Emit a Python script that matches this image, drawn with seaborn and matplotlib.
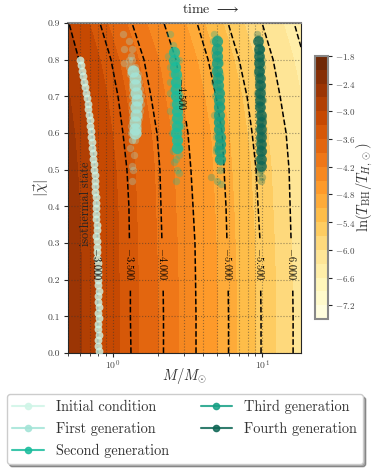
import numpy as np
import seaborn as sns
import matplotlib.pyplot as plt
from matplotlib.lines import Line2D
from matplotlib.ticker import FixedLocator, NullFormatter, FixedFormatter

# contour table: log10(M) where each level crosses each spin row
spin_rows = [0.0, 0.1, 0.2, 0.3, 0.4, 0.5, 0.6, 0.7, 0.8, 0.9]
field_levels = [-2.0, -2.5, -3.0, -3.5, -4.0, -4.5, -5.0, -5.5, -6.0, -6.5, -7.0]
log_mass_table = [
    [-.520, -.300, -.101, .121, .339, .557, .775, .993, 1.208, 1.423, 1.641],
    [-.520, -.300, -.101, .117, .339, .557, .775, .993, 1.208, 1.423, 1.641],
    [-.523, -.300, -.104, .117, .336, .554, .772, .990, 1.205, 1.419, 1.637],
    [-.527, -.309, -.104, .111, .329, .550, .765, .987, 1.195, 1.416, 1.634],
    [-.540, -.322, -.107, .107, .322, .537, .758, .973, 1.188, 1.403, 1.621],
    [-.554, -.336, -.121, .094, .315, .523, .745, .960, 1.181, 1.389, 1.607],
    [-.574, -.356, -.141, .067, .295, .503, .732, .933, 1.161, 1.369, 1.587],
    [-.607, -.389, -.174, .034, .255, .463, .691, .899, 1.121, 1.336, 1.554],
    [-.661, -.443, -.228, -.013, .208, .423, .638, .846, 1.074, 1.285, 1.503],
    [-.728, -.510, -.295, -.087, .128, .342, .564, .772, 1.000, 1.215, 1.433],
]
line_levels = [-6.5, -6.0, -5.5, -5.0, -4.5, -4.0, -3.5, -3.0, -2.5]
band_edges = [-7.5, -7.2, -6.9, -6.6, -6.3, -6.0, -5.7, -5.4, -5.1, -4.8, -4.5,
              -4.2, -3.9, -3.6, -3.3, -3.0, -2.7, -2.4, -2.1, -1.8]
cbar_ticks = [-7.2, -6.6, -6.0, -5.4, -4.8, -4.2, -3.6, -3.0, -2.4, -1.8]

# generations, spin and log10(M)
init_chi = [.80, .785, .77, .755, .74, .725, .71, .695, .68, .665, .65, .635, .62, .605, .59, .575, .56, .545,
            .53, .515, .50, .485, .47, .455, .44, .425, .41, .395, .38, .365, .35, .335, .32, .305, .29, .275,
            .26, .245, .23, .215, .20, .185, .17, .155, .14, .125, .11, .095, .08, .065, .05, .035, .02, .005]
init_mass = [-.221, -.215, -.208, -.201, -.195, -.185, -.178, -.171, -.168, -.164, -.158, -.154, -.151, -.148,
             -.144, -.141, -.138, -.134, -.131, -.128, -.124, -.121, -.121, -.117, -.117, -.114, -.114, -.114,
             -.111, -.111, -.107, -.107, -.111, -.107, -.104, -.104, -.104, -.101, -.101, -.097, -.097, -.097,
             -.094, -.097, -.097, -.094, -.097, -.094, -.097, -.097, -.094, -.097, -.097, -.094]

first_chi = [.87, .83, .79, .85, .83, .81, .47, .51, .54, .50, .56, .58,
             .80, .80, .78, .78, .78, .76, .76, .76, .74, .74, .74, .72, .72, .72, .70, .70, .70,
             .68, .68, .68, .66, .66, .66, .64, .64, .64, .62, .62, .62, .60, .60, .60, .58, .58]
first_mass = [.070, .075, .075, .105, .130, .120, .125, .130, .140, .135, .115, .130,
              .105, .125, .110, .130, .150, .115, .140, .165, .125, .150, .175, .130, .155, .180, .130, .155, .185,
              .130, .160, .185, .125, .155, .180, .125, .150, .175, .120, .150, .170, .120, .145, .165, .125, .150]
first_core_chi = [.77, .75, .73, .71, .69, .67, .65, .63, .61, .60]
first_core_mass = [.135, .145, .150, .155, .160, .155, .155, .150, .145, .145]

second_chi = [.87, .84, .82, .81, .79, .78, .78, .76, .76, .75, .74, .73, .72, .71, .71, .70, .70, .69, .68, .67,
              .66, .66, .65, .64, .63, .63, .62, .61, .60, .60, .59, .58, .57, .56, .55, .54, .53, .52, .50, .49,
              .47, .80, .74, .68, .62, .56]
second_mass = [.385, .405, .400, .370, .400, .430, .380, .395, .425, .445, .410, .430, .405, .440, .385, .415,
               .450, .430, .400, .445, .420, .385, .450, .425, .405, .445, .430, .410, .440, .395, .425, .445,
               .420, .435, .400, .440, .425, .410, .430, .440, .420, .445, .385, .460, .455, .450]
second_core_chi = [.82, .80, .78, .76, .74, .72, .70, .68, .66, .64, .62, .60, .58, .56]
second_core_mass = [.410, .410, .415, .420, .420, .425, .425, .430, .430, .430, .430, .425, .430, .430]

third_chi = [.87, .86, .84, .83, .82, .81, .80, .79, .78, .77, .76, .75, .74, .73, .72, .71, .70, .69, .68, .67,
             .66, .65, .64, .63, .62, .61, .60, .59, .58, .57, .56, .55, .54, .53, .52, .50, .48, .47, .46, .85,
             .80, .76, .72, .68, .64, .60, .56]
third_mass = [.680, .700, .690, .705, .680, .700, .690, .715, .680, .700, .690, .710, .680, .700, .695, .720,
              .685, .705, .695, .725, .700, .680, .715, .695, .725, .705, .720, .690, .710, .730, .700, .690,
              .720, .705, .725, .715, .655, .700, .725, .670, .710, .715, .720, .720, .700, .700, .690]
third_core_chi = [.85, .83, .81, .79, .77, .75, .73, .71, .69, .67, .65, .63, .61, .59, .57, .55, .53]
third_core_mass = [.695, .695, .700, .700, .700, .705, .705, .710, .710, .710, .710, .710, .710, .715, .715, .715, .720]

fourth_chi = [.87, .86, .84, .83, .82, .81, .80, .79, .78, .77, .76, .75, .74, .73, .72, .71, .70, .69, .68, .67,
              .66, .65, .64, .63, .62, .61, .60, .59, .58, .57, .56, .55, .54, .53, .52, .50, .49, .48, .47, .83,
              .80, .76, .72, .68, .64, .60, .56, .78, .70, .62]
fourth_mass = [.965, .975, .980, .990, .965, .985, .970, .995, .975, .990, .965, .985, .970, 1.000, .980, .965,
               .990, 1.005, .975, .995, .985, .970, 1.005, .985, .995, .975, 1.005, .990, .980, 1.000, .985,
               1.005, .990, .975, 1.000, .995, .980, 1.000, .990, .995, 1.000, .985, 1.000, .980, .990, .985,
               .985, 1.000, .975, .985]
fourth_core_chi = [.85, .83, .81, .79, .77, .75, .73, .71, .69, .67, .65, .63, .61, .59, .57, .55, .53, .51]
fourth_core_mass = [.975, .980, .980, .980, .980, .985, .985, .985, .985, .985, .990, .990, .990, .990, .990, .990, .990, .990]

gen_names = ['Initial condition', 'First generation', 'Second generation', 'Third generation', 'Fourth generation']
gen_colors = ['#cff5e7', '#a3e4d7', '#1abc9c', '#16a085', '#0e6655']

sns.set_style('ticks')
plt.rcParams['font.family'] = ['cmr10', 'DejaVu Serif']
plt.rcParams['mathtext.fontset'] = 'cm'
plt.rcParams['axes.formatter.use_mathtext'] = True
plt.rcParams['axes.unicode_minus'] = False

fig = plt.figure(figsize=(3.78, 4.7), dpi=100)
ax = fig.add_axes([0.18, 0.249, 0.615, 0.702])
cax = fig.add_axes([0.833, 0.321, 0.0344, 0.56])

ax.set_xscale('log')
ax.set_xlim(0.5, 18.1)
ax.set_ylim(0, 0.9)

mass_grid = 10 ** np.array(log_mass_table)
spin_grid = np.tile(np.array(spin_rows)[:, None], (1, len(field_levels)))
level_grid = np.tile(np.array(field_levels), (len(spin_rows), 1))

bands = ax.contourf(mass_grid, spin_grid, level_grid, levels=band_edges, cmap='YlOrBr', zorder=1)
lines = ax.contour(mass_grid, spin_grid, level_grid, levels=line_levels, colors='k',
                   linestyles='--', linewidths=1.1, zorder=2)
labels = ax.clabel(lines, fmt='$%.3f$', fontsize=7.5, inline=True, inline_spacing=9,
                   manual=[(15.9, .243), (9.8, .243), (5.9, .243), (3.0, .709), (2.17, .243), (1.31, .243), (0.79, .243)])
for t in labels:
    t.set_rotation(-90)

# thin outer points first, then the dense middle of each cloud
sns.scatterplot(x=10 ** np.array(init_mass), y=init_chi, ax=ax, color=gen_colors[0], s=32, alpha=0.8,
                linewidth=0, zorder=3, legend=False)
gen_chi = [first_chi, second_chi, third_chi, fourth_chi]
gen_mass = [first_mass, second_mass, third_mass, fourth_mass]
core_chi = [first_core_chi, second_core_chi, third_core_chi, fourth_core_chi]
core_mass = [first_core_mass, second_core_mass, third_core_mass, fourth_core_mass]
core_size = [75, 65, 65, 60]
for i in range(4):
    sns.scatterplot(x=10 ** np.array(gen_mass[i]), y=gen_chi[i], ax=ax, color=gen_colors[i + 1], s=28, alpha=0.3,
                    linewidth=0, zorder=3, legend=False)
    sns.scatterplot(x=10 ** np.array(core_mass[i]), y=core_chi[i], ax=ax, color=gen_colors[i + 1], s=core_size[i],
                    alpha=0.8, linewidth=0, zorder=3, legend=False)

ax.set_xlim(0.5, 18.1)
ax.set_ylim(0, 0.9)
ax.set_yticks(np.arange(0, 0.91, 0.1))
ax.set_yticklabels(['0.0', '0.1', '0.2', '0.3', '0.4', '0.5', '0.6', '0.7', '0.8', '0.9'])
ax.xaxis.set_major_locator(FixedLocator([1, 10]))
ax.xaxis.set_major_formatter(FixedFormatter(['$10^0$', '$10^1$']))
ax.xaxis.set_minor_locator(FixedLocator([.5, .6, .7, .8, .9, 2, 3, 4, 5, 6, 7, 8, 9]))
ax.xaxis.set_minor_formatter(NullFormatter())
ax.grid(True, which='both', linestyle=':', color='#333333', alpha=0.5, linewidth=0.8, zorder=2)
ax.set_axisbelow(False)
ax.tick_params(axis='y', which='major', labelsize=7, length=3, labelcolor='#444444', pad=3)
ax.tick_params(axis='x', which='major', labelsize=7, length=3, labelcolor='#444444', pad=1)
ax.tick_params(axis='x', which='minor', length=2)
ax.spines['top'].set_color('#888888')
ax.spines['top'].set_linewidth(1.5)
ax.set_xlabel(r'$M/M_{\odot}$', fontsize=10.5, labelpad=-4, color='#333333')
ax.set_ylabel(r'$|\vec{\chi}|$', fontsize=11, labelpad=-3, color='#333333')
ax.text(0.611, 1.04, r'time $\longrightarrow$', transform=ax.transAxes, ha='center', va='center', fontsize=10)
ax.text(0.659, 0.406, 'isothermal state', rotation=90, ha='center', va='center', fontsize=8.7, color='#222222')

cbar = fig.colorbar(bands, cax=cax, spacing='uniform')
cbar.set_ticks(cbar_ticks)
cbar.set_ticklabels(['$%.1f$' % v for v in cbar_ticks])
cbar.ax.tick_params(labelsize=6.5, length=3, labelcolor='#444444', pad=2)
cbar.outline.set_edgecolor('#888888')
cbar.outline.set_linewidth(1.5)
cbar.set_label(r'$\ln(T_{\rm BH}/T_{H,\odot})$', fontsize=10.5, labelpad=0, color='#333333')

handles = [Line2D([], [], color=c, marker='o', markersize=4.5, linewidth=1.5, alpha=0.85) for c in gen_colors]
fig.legend(handles, gen_names, loc='center', bbox_to_anchor=(0.489, 0.087), ncol=2, fontsize=10.3,
           frameon=True, shadow=True, fancybox=True, labelspacing=0.55, columnspacing=2.2, handlelength=2.2,
           handletextpad=0.85, borderpad=0.4, edgecolor='#cccccc', labelcolor='#333333')

fig.savefig('out.png', dpi=100)
